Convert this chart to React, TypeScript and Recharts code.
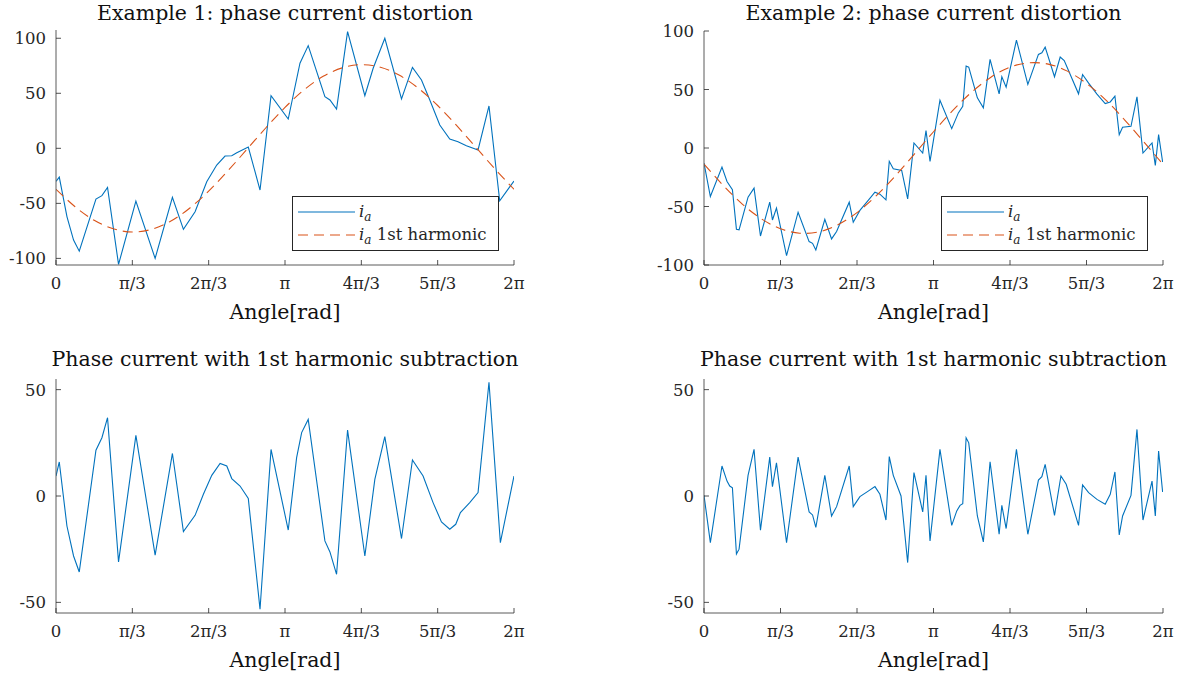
import React from 'react';
import { LineChart, Line, XAxis, YAxis, Legend } from 'recharts';

const BLUE = '#0072BD';
const ORANGE = '#D95319';
const INK = '#262626';
const AXIS_LINE = '#5a5a5a';
const FONT = '"DejaVu Serif", serif';

// shared angle axis
const angleTicks = [0, Math.PI / 3, (2 * Math.PI) / 3, Math.PI, (4 * Math.PI) / 3, (5 * Math.PI) / 3, 2 * Math.PI];
const angleLabels = ['0', 'π/3', '2π/3', 'π', '4π/3', '5π/3', '2π'];

const currentTicks = [-100, -50, 0, 50, 100];
const residualTicks = [-50, 0, 50];

// Example 1 - measured phase current
const ex1Angle = [
  0, 0.045, 0.151, 0.241, 0.319, 0.548, 0.63, 0.707, 0.858, 1.096, 1.36, 1.597, 1.748, 1.908, 2.068,
  2.205, 2.319, 2.411, 2.48, 2.638, 2.799, 2.95, 3.186, 3.347, 3.46, 3.689, 3.758, 3.849, 4.0, 4.237,
  4.351, 4.511, 4.74, 4.89, 5.014, 5.128, 5.265, 5.402, 5.515, 5.63, 5.79, 5.94, 6.087, 6.283,
];
const ex1Current = [
  -30, -26.1, -62.2, -83.4, -93.4, -46.1, -43, -35.5, -105.5, -47.9, -100, -44.5, -73.6, -57.6, -30.3,
  -15.2, -7, -6.7, -4, 1.2, -37.9, 47.8, 26.6, 77.3, 93.3, 46.9, 43.9, 35.7, 106, 47.8,
  72.7, 100, 44.8, 73.6, 62.1, 43.9, 21.2, 8.5, 6, 2.4, -1.5, 38.5, -47.6, -29.7,
];

// Example 1 - current minus its 1st harmonic
const ex1ResAngle = [
  0, 0.045, 0.15, 0.241, 0.319, 0.548, 0.63, 0.707, 0.858, 1.096, 1.36, 1.597, 1.748, 1.908, 2.022,
  2.137, 2.251, 2.343, 2.411, 2.525, 2.638, 2.799, 2.95, 3.186, 3.301, 3.37, 3.46, 3.689, 3.758, 3.849,
  4.0, 4.237, 4.374, 4.511, 4.74, 4.89, 5.036, 5.173, 5.288, 5.402, 5.484, 5.548, 5.676, 5.79, 5.94,
  6.096, 6.283,
];
const ex1Residual = [
  9.4, 16, -14.1, -28.2, -35.7, 21.5, 27.4, 36.8, -31, 28.5, -27.8, 20, -16.7, -9.1, 0.8,
  9.7, 15.3, 14.1, 8.2, 4.7, -1.2, -53.2, 21.9, -16, 18, 29.8, 36, -21.1, -26.3, -36.8,
  31, -28.2, 7.8, 27.9, -20, 16.9, 9.4, -3.1, -12.2, -15.6, -13.3, -7.8, -3.1, 1.6, 53.5,
  -21.9, 9.4,
];

// Example 2 - measured phase current
const ex2Angle = [
  0, 0.087, 0.246, 0.315, 0.389, 0.444, 0.48, 0.603, 0.685, 0.773, 0.9, 0.937, 0.992, 1.13, 1.288,
  1.439, 1.486, 1.531, 1.654, 1.746, 1.815, 1.988, 2.043, 2.134, 2.248, 2.34, 2.408, 2.491, 2.536, 2.591,
  2.706, 2.788, 2.874, 2.994, 3.039, 3.094, 3.23, 3.391, 3.482, 3.542, 3.588, 3.624, 3.742, 3.824, 3.916,
  4.04, 4.077, 4.136, 4.277, 4.433, 4.578, 4.625, 4.67, 4.798, 4.876, 4.931, 5.127, 5.182, 5.265, 5.379,
  5.492, 5.561, 5.625, 5.684, 5.73, 5.845, 5.927, 6.009, 6.133, 6.178, 6.223, 6.278,
];
const ex2Current = [
  -12.9, -41.5, -16.3, -28.6, -35.7, -69.5, -70, -42, -34.3, -75.2, -46.3, -61.5, -51.4, -92, -54.9,
  -80, -81.5, -87.2, -60.9, -77.7, -71.4, -46.3, -63.5, -53.3, -44.8, -37.8, -39.5, -44.3, -11.4, -17.7,
  -19.2, -43.5, 4.3, -4.3, 14.8, -11.4, 40.8, 16.5, 30, 35.7, 70, 69.1, 42.9, 34.3, 75.7,
  46.3, 60.9, 52, 92.2, 54.3, 80, 81.4, 86.2, 60.9, 77.7, 74.8, 46.3, 62.8, 55.4, 46.1,
  38, 39.4, 44.3, 11.4, 17.7, 18.6, 43.7, -4.3, 4.3, -14.9, 11.4, -12,
];

// Example 2 - current minus its 1st harmonic
const ex2ResAngle = [
  0, 0.087, 0.246, 0.315, 0.352, 0.389, 0.444, 0.48, 0.603, 0.685, 0.773, 0.9, 0.937, 0.992, 1.13,
  1.288, 1.439, 1.486, 1.531, 1.654, 1.746, 1.815, 1.988, 2.043, 2.134, 2.248, 2.34, 2.408, 2.491, 2.536,
  2.591, 2.697, 2.788, 2.874, 2.994, 3.039, 3.094, 3.23, 3.391, 3.46, 3.505, 3.542, 3.588, 3.624, 3.742,
  3.824, 3.916, 4.04, 4.077, 4.136, 4.277, 4.433, 4.578, 4.625, 4.67, 4.798, 4.886, 4.958, 5.127, 5.182,
  5.265, 5.379, 5.492, 5.561, 5.625, 5.684, 5.73, 5.845, 5.927, 6.009, 6.133, 6.178, 6.223, 6.278,
];
const ex2Residual = [
  0.3, -21.9, 14.1, 7, 4.7, 3.9, -27.3, -25, 9.7, 21.9, -16.1, 18.3, 4.4, 15.6, -21.9,
  18.3, -7.5, -8.9, -14.8, 9.7, -9.4, -5, 14.1, -5, -0.3, 2.3, 4.4, 0.8, -11.3, 18.5,
  9.7, 0, -31.3, 11, -7.5, 9.7, -21.1, 21.9, -13.8, -7, -4.4, -3.6, 27.4, 25, -9.4,
  -21.6, 16.1, -18, -4.4, -15.3, 21.9, -18, 7.5, 9.1, 14.9, -9.1, 9.4, 5.5, -13.8, 5.2,
  1.6, -1.6, -3.9, 0.8, 11.3, -18.3, -9.4, 0.3, 31.3, -11.3, 7, -9.4, 21.1, 1.9,
];

// 1st harmonic, sampled every pi/12
const harmonicAngle = [
  0, 0.262, 0.524, 0.785, 1.047, 1.309, 1.571, 1.833, 2.094, 2.356, 2.618, 2.88, 3.142, 3.403, 3.665,
  3.927, 4.189, 4.451, 4.712, 4.974, 5.236, 5.498, 5.76, 6.021, 6.283,
];
const ex1Harmonic = [
  -37.2, -53.1, -65.4, -73.1, -76, -73.6, -66.3, -54.4, -38.9, -20.6, -1, 18.7, 37.2, 53.1, 65.4,
  73.1, 76, 73.6, 66.3, 54.4, 38.9, 20.6, 1, -18.7, -37.2,
];
const ex2Harmonic = [
  -13.8, -31.9, -47.9, -60.5, -69, -72.8, -71.7, -65.6, -55.2, -40.9, -24, -5.2, 13.9, 31.9, 47.8,
  60.5, 69.1, 72.8, 71.7, 65.7, 55.2, 41.2, 23.9, 5.2, -13.9,
];

const toPoints = (xs: number[], ys: number[]) => xs.map((x, i) => ({ x, y: ys[i] }));

const Y_AXIS_W = 50;
const X_AXIS_H = 40;
const TOP_PAD = 10;
const RIGHT_PAD = 12;
const TICK_LEN = 5;

function AngleTick(props: any) {
  const { x, y, payload } = props;
  const i = angleTicks.findIndex((t) => Math.abs(t - payload.value) < 1e-6);
  return (
    <g>
      <line x1={x} y1={y} x2={x} y2={y - TICK_LEN} stroke={INK} strokeWidth={0.8} />
      <text x={x} y={y + 24} textAnchor="middle" fontSize={16.5} fontFamily={FONT} fill={INK}>
        {angleLabels[i]}
      </text>
    </g>
  );
}

function ValueTick(props: any) {
  const { x, y, payload } = props;
  return (
    <g>
      <line x1={x} y1={y} x2={x + TICK_LEN} y2={y} stroke={INK} strokeWidth={0.8} />
      <text x={x - 10} y={y + 6} textAnchor="end" fontSize={16.5} fontFamily={FONT} fill={INK}>
        {payload.value}
      </text>
    </g>
  );
}

function SubI() {
  return (
    <>
      <tspan fontStyle="italic">i</tspan>
      <tspan fontStyle="italic" fontSize={12} dy={4}>a</tspan>
    </>
  );
}

function HarmonicLegend() {
  return (
    <svg width={207} height={55} style={{ display: 'block' }}>
      <rect x={0.5} y={0.5} width={206} height={54} fill="#fff" stroke={INK} strokeWidth={1} />
      <line x1={6} y1={16} x2={63} y2={16} stroke={BLUE} strokeWidth={1.1} />
      <text x={67} y={21} fontSize={16.5} fontFamily={FONT} fill={INK}>
        <SubI />
      </text>
      <line x1={6} y1={39} x2={63} y2={39} stroke={ORANGE} strokeWidth={1.1} strokeDasharray="10 6" />
      <text x={67} y={44} fontSize={16.5} fontFamily={FONT} fill={INK}>
        <SubI />
        <tspan dy={-4}> 1st harmonic</tspan>
      </text>
    </svg>
  );
}

type Box = { x0: number; y0: number; x1: number; y1: number };

function Panel({
  box,
  yDomain,
  yTicks,
  signal,
  harmonic,
  legendAt,
}: {
  box: Box;
  yDomain: [number, number];
  yTicks: number[];
  signal: { x: number; y: number }[];
  harmonic?: { x: number; y: number }[];
  legendAt?: { x: number; y: number };
}) {
  const left = box.x0 - Y_AXIS_W;
  const top = box.y0 - TOP_PAD;
  const width = box.x1 - box.x0 + Y_AXIS_W + RIGHT_PAD;
  const height = box.y1 - box.y0 + TOP_PAD + X_AXIS_H;
  return (
    <div style={{ position: 'absolute', left, top }}>
      <LineChart width={width} height={height} margin={{ top: TOP_PAD, right: RIGHT_PAD, bottom: 0, left: 0 }}>
        <XAxis
          type="number"
          dataKey="x"
          domain={[0, 2 * Math.PI]}
          ticks={angleTicks}
          allowDataOverflow
          height={X_AXIS_H}
          tickSize={0}
          tickMargin={0}
          tickLine={false}
          axisLine={{ stroke: AXIS_LINE, strokeWidth: 1 }}
          tick={AngleTick}
          interval={0}
        />
        <YAxis
          type="number"
          dataKey="y"
          domain={yDomain}
          ticks={yTicks}
          allowDataOverflow
          width={Y_AXIS_W}
          tickSize={0}
          tickMargin={0}
          tickLine={false}
          axisLine={{ stroke: AXIS_LINE, strokeWidth: 1 }}
          tick={ValueTick}
          interval={0}
        />
        <Line
          data={signal}
          dataKey="y"
          type="linear"
          stroke={BLUE}
          strokeWidth={1.1}
          dot={false}
          isAnimationActive={false}
        />
        {harmonic && (
          <Line
            data={harmonic}
            dataKey="y"
            type="natural"
            stroke={ORANGE}
            strokeWidth={1.1}
            strokeDasharray="10 6"
            dot={false}
            isAnimationActive={false}
          />
        )}
        {harmonic && legendAt && (
          <Legend
            layout="horizontal"
            verticalAlign="middle"
            align="center"
            wrapperStyle={{ left: legendAt.x - left, top: legendAt.y - top, width: 207, height: 55 }}
            content={() => <HarmonicLegend />}
          />
        )}
      </LineChart>
    </div>
  );
}

const TL: Box = { x0: 56, y0: 30, x1: 514, y1: 265 };
const TR: Box = { x0: 704, y0: 31, x1: 1163, y1: 265 };
const BL: Box = { x0: 56, y0: 379, x1: 514, y1: 613 };
const BR: Box = { x0: 704, y0: 379, x1: 1163, y1: 613 };

export default function App() {
  const cx = (b: Box) => (b.x0 + b.x1) / 2;
  return (
    <div style={{ position: 'absolute', left: 0, top: 0, width: 1183, height: 681, background: '#fff', overflow: 'hidden' }}>
      <Panel
        box={TL}
        yDomain={[-106, 107.5]}
        yTicks={currentTicks}
        signal={toPoints(ex1Angle, ex1Current)}
        harmonic={toPoints(harmonicAngle, ex1Harmonic)}
        legendAt={{ x: 292, y: 196 }}
      />
      <Panel
        box={TR}
        yDomain={[-100, 100]}
        yTicks={currentTicks}
        signal={toPoints(ex2Angle, ex2Current)}
        harmonic={toPoints(harmonicAngle, ex2Harmonic)}
        legendAt={{ x: 941, y: 196 }}
      />
      <Panel box={BL} yDomain={[-55, 55]} yTicks={residualTicks} signal={toPoints(ex1ResAngle, ex1Residual)} />
      <Panel box={BR} yDomain={[-55, 55]} yTicks={residualTicks} signal={toPoints(ex2ResAngle, ex2Residual)} />
      <svg width={1183} height={681} style={{ position: 'absolute', left: 0, top: 0, pointerEvents: 'none' }}>
        <g fontFamily={FONT} fill="#111" textAnchor="middle" fontSize={20.5}>
          <text x={cx(TL)} y={20}>Example 1: phase current distortion</text>
          <text x={cx(TR)} y={20}>Example 2: phase current distortion</text>
          <text x={cx(BL)} y={366}>Phase current with 1st harmonic subtraction</text>
          <text x={cx(BR)} y={366}>Phase current with 1st harmonic subtraction</text>
          <text x={cx(TL)} y={TL.y1 + 54}>Angle[rad]</text>
          <text x={cx(TR)} y={TR.y1 + 54}>Angle[rad]</text>
          <text x={cx(BL)} y={BL.y1 + 54}>Angle[rad]</text>
          <text x={cx(BR)} y={BR.y1 + 54}>Angle[rad]</text>
        </g>
      </svg>
    </div>
  );
}
